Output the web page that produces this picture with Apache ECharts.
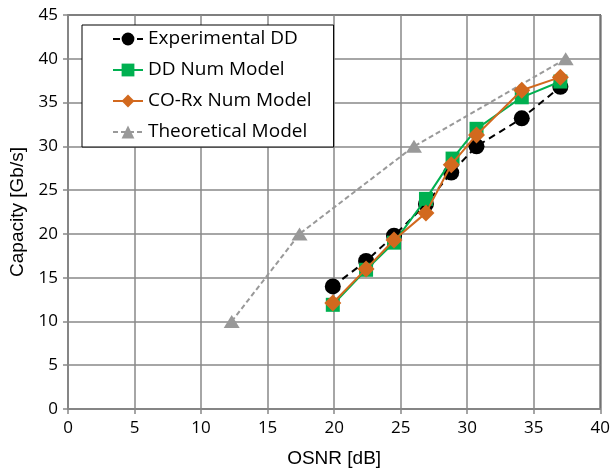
<!DOCTYPE html>
<html>
<head>
<meta charset="utf-8">
<script src="https://cdn.jsdelivr.net/npm/echarts@6/dist/echarts.min.js"></script>
<style>
  html, body { margin: 0; padding: 0; background: #fff; }
  #chart { width: 613px; height: 473px; }
</style>
</head>
<body>
<div id="chart"></div>
<script>
// data
var expDD = [[19.9, 14.0], [22.4, 16.9], [24.5, 19.8], [26.9, 23.4], [28.8, 27.0], [30.7, 30.0], [34.1, 33.2], [37.0, 36.8]];
var ddNum = [[19.9, 11.9], [22.4, 15.9], [24.5, 19.0], [26.9, 24.0], [28.9, 28.6], [30.7, 32.0], [34.1, 35.6], [37.0, 37.4]];
var coRx = [[19.9, 12.1], [22.4, 16.0], [24.5, 19.3], [26.9, 22.4], [28.8, 27.9], [30.7, 31.3], [34.1, 36.4], [37.0, 37.9]];
var theo = [[12.3, 10], [17.4, 20], [26.0, 30], [37.4, 40]];
var seriesNames = ['Experimental DD', 'DD Num Model', 'CO-Rx Num Model', 'Theoretical Model'];

var chart = echarts.init(document.getElementById('chart'));

var option = {
  backgroundColor: '#fff',
  animation: false,
  grid: {
    left: 68, right: 12, top: 15, bottom: 63,
    show: true,
    borderColor: '#333',
    borderWidth: 1.5
  },
  legend: {
    data: seriesNames,
    orient: 'vertical',
    left: 82,
    top: 25,
    backgroundColor: '#fff',
    borderColor: '#000',
    borderWidth: 1,
    padding: [3, 22, 4, 30],
    itemWidth: 30,
    itemHeight: 16,
    itemGap: 9,
    textStyle: {
      fontFamily: 'Open Sans',
      fontSize: 19,
      color: '#000',
      lineHeight: 22
    }
  },
  xAxis: {
    type: 'value',
    min: 0, max: 40, interval: 5,
    name: 'OSNR [dB]',
    nameLocation: 'middle',
    nameGap: 40,
    nameTextStyle: { fontFamily: 'Liberation Sans', fontSize: 19, color: '#000' },
    axisLine: { show: true, lineStyle: { color: '#888', width: 1.5 } },
    axisTick: { show: true, inside: false, length: 5, lineStyle: { color: '#888', width: 1.5 } },
    axisLabel: { fontFamily: 'Open Sans', fontSize: 17, color: '#000', margin: 11 },
    splitLine: { show: true, lineStyle: { color: '#888', width: 1.5 } }
  },
  yAxis: {
    type: 'value',
    min: 0, max: 45, interval: 5,
    name: 'Capacity [Gb/s]',
    nameLocation: 'middle',
    nameGap: 40,
    nameTextStyle: { fontFamily: 'Liberation Sans', fontSize: 19, color: '#000' },
    axisLine: { show: true, lineStyle: { color: '#888', width: 1.5 } },
    axisTick: { show: true, inside: false, length: 5, lineStyle: { color: '#888', width: 1.5 } },
    axisLabel: { fontFamily: 'Open Sans', fontSize: 17, color: '#000', margin: 10 },
    splitLine: { show: true, lineStyle: { color: '#888', width: 1.5 } }
  },
  series: [
    {
      name: 'Theoretical Model',
      type: 'line',
      data: theo,
      symbol: 'triangle',
      symbolSize: [16, 13],
      itemStyle: { color: '#999' },
      lineStyle: { color: '#999', width: 2, type: [5, 3] },
      z: 2
    },
    {
      name: 'Experimental DD',
      type: 'line',
      data: expDD,
      symbol: 'circle',
      symbolSize: 16,
      itemStyle: { color: '#000' },
      lineStyle: { color: '#000', width: 2, type: [7, 5] },
      z: 3
    },
    {
      name: 'DD Num Model',
      type: 'line',
      data: ddNum,
      symbol: 'rect',
      symbolSize: 14,
      itemStyle: { color: '#00b050' },
      lineStyle: { color: '#00b050', width: 2 },
      z: 4
    },
    {
      name: 'CO-Rx Num Model',
      type: 'line',
      data: coRx,
      symbol: 'diamond',
      symbolSize: 17,
      itemStyle: { color: '#d2691e' },
      lineStyle: { color: '#d2691e', width: 2 },
      z: 5
    }
  ]
};

chart.setOption(option);

window.onresize = function () {
  chart.resize();
};
</script>
</body>
</html>
